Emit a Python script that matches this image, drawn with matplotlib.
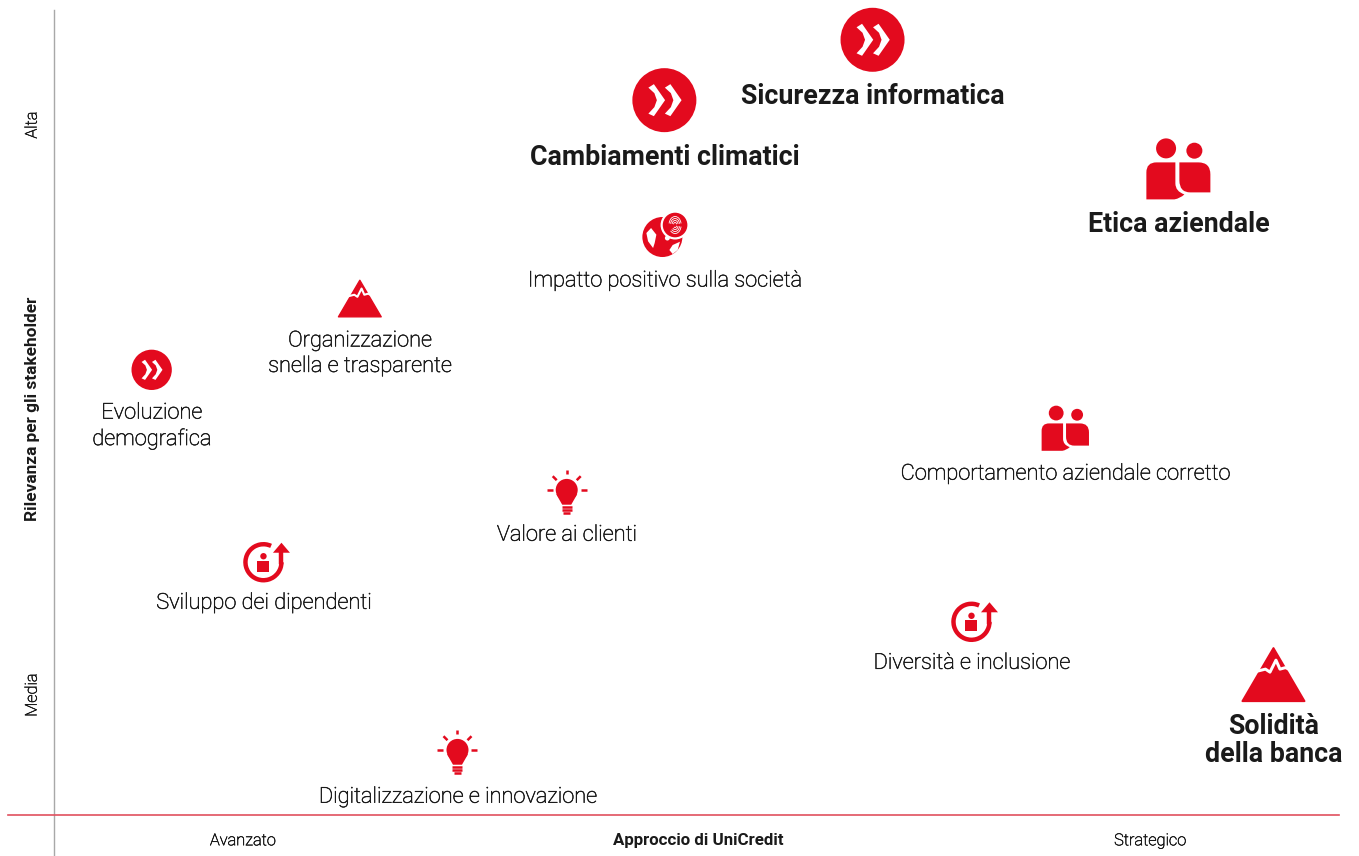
import numpy as np
import matplotlib
matplotlib.use('Agg')
import matplotlib.pyplot as plt
import matplotlib.patheffects as pe
from matplotlib.patches import Circle, Polygon, PathPatch, Arc
from matplotlib.path import Path
from matplotlib.transforms import Affine2D

# Dati (scala 0-100 su entrambi gli assi)
etichette = ['Sicurezza informatica', 'Cambiamenti climatici', 'Etica aziendale',
             'Impatto positivo sulla società', 'Organizzazione\nsnella e trasparente',
             'Evoluzione\ndemografica', 'Comportamento aziendale corretto', 'Valore ai clienti',
             'Sviluppo dei dipendenti', 'Diversità e inclusione', 'Solidità\ndella banca',
             'Digitalizzazione e innovazione']
approccio = [63.7, 47.5, 87.5, 47.5, 23.8, 7.6, 78.7, 39.9, 16.3, 71.4, 94.9, 31.4]
rilevanza = [96.3, 88.8, 80.2, 71.8, 64.2, 55.3, 48.0, 40.1, 31.4, 24.0, 17.5, 7.8]
icone = ['freccia', 'freccia', 'persone', 'globo', 'monte', 'freccia', 'persone', 'lampadina',
         'crescita', 'crescita', 'monte', 'lampadina']
principali = [True, True, True, False, False, False, False, False, False, False, True, False]

tick_x = ['Avanzato', 'Strategico']
tick_y = ['Alta', 'Media']

ROSSO = '#e30a1e'
TESTO = '#1a1a1a'
plt.rcParams['font.family'] = ['Roboto', 'DejaVu Sans']
# il carattere originale sta tra light e regular
RINFORZO = [pe.withStroke(linewidth=0.4, foreground='#1a1a1a')]

fig = plt.figure(figsize=(13.59, 8.56), dpi=100)
ax = fig.add_axes([54 / 1359, 41 / 856, 1285 / 1359, 805 / 856])
ax.set_xlim(0, 100)
ax.set_ylim(0, 100)
ax.axis('off')


def freccia(t, s):
    ax.add_patch(Circle((0, 0), 32, color=ROSSO, lw=0, transform=t, clip_on=False))
    for dx in (0, 16.5):
        forma = np.array([(-16, -12.5), (-10.5, -16), (0.7, 0), (-10.5, 16), (-16, 13.5), (-10, 7),
                          (-7.5, 0), (-10, -7)]) + (dx, 0)
        ax.add_patch(Polygon(forma, color='white', lw=0, transform=t, clip_on=False))


def persone(t, s):
    ax.add_patch(Circle((-12.3, -21), 10, color=ROSSO, lw=0, transform=t, clip_on=False))
    ax.add_patch(Circle((16, -18.7), 8, color=ROSSO, lw=0, transform=t, clip_on=False))
    sx = Path([(-32, 30), (-32, 3), (-32, -7), (-22, -7), (-3, -7), (-3, 14), (-3, 22), (6, 25),
               (2, 29), (-4, 30), (-12, 30), (-32, 30)],
              [1, 2, 3, 3, 2, 2, 3, 3, 3, 3, 2, 79])
    dx = Path([(1, -7), (20, -7), (32, -7), (32, 5), (32, 23), (12, 23), (1, 23), (1, 11), (1, -7)],
              [1, 2, 3, 3, 2, 2, 3, 3, 79])
    ax.add_patch(PathPatch(sx, color=ROSSO, lw=0, transform=t, clip_on=False))
    ax.add_patch(PathPatch(dx, color=ROSSO, lw=0, transform=t, clip_on=False))


def monte(t, s):
    ax.add_patch(Polygon([(0, -26), (31, 27), (-31, 27)], facecolor=ROSSO, edgecolor=ROSSO,
                         lw=2 * s * 0.72, joinstyle='round', transform=t, clip_on=False))
    crepa = np.array([(-20, -2), (-8, -5), (-3.5, -2), (2.5, -14), (6.5, -5), (12, -6.5), (22, -2)])
    ax.plot(*crepa.T, color='white', lw=3 * s * 0.72, transform=t, clip_on=False)


def lampadina(t, s):
    ax.add_patch(Circle((0, -2.3), 11, color=ROSSO, lw=0, transform=t, clip_on=False))
    ax.add_patch(Polygon([(-10.5, 2), (10.5, 2), (4.5, 12.5), (-4.5, 12.5)], color=ROSSO, lw=0,
                         transform=t, clip_on=False))
    for x0, y0, x1, y1 in [(-5, 14.7, 5, 14.7), (-5, 17.7, 5, 17.7), (-3.5, 20.7, 3.5, 20.7),
                           (-20, -2.5, -14, -2.5), (14, -2.5, 20, -2.5), (-14, -16, -10, -12),
                           (14, -16, 10, -12), (0, -22, 0, -18)]:
        ax.plot([x0, x1], [y0, y1], color=ROSSO, lw=1.8, transform=t, clip_on=False,
                solid_capstyle='butt')


def crescita(t, s):
    ax.add_patch(Arc((0, 0), 36, 36, theta1=0, theta2=295, color=ROSSO, lw=3.2, transform=t,
                     clip_on=False))
    ax.plot([18, 18], [0, -12], color=ROSSO, lw=3.2, transform=t, clip_on=False)
    ax.add_patch(Polygon([(18, -19.5), (26.5, -9.5), (9.5, -9.5)], color=ROSSO, lw=0, transform=t,
                         clip_on=False))
    ax.add_patch(Circle((0, -6), 3.2, color=ROSSO, lw=0, transform=t, clip_on=False))
    ax.add_patch(Polygon([(-6.5, -1.5), (6, -1.5), (6, 9.5), (-6.5, 9.5)], color=ROSSO, lw=0,
                         transform=t, clip_on=False))


def globo(t, s):
    ax.add_patch(Circle((-2, 0), 20, color=ROSSO, lw=0, transform=t, clip_on=False))
    for forma in ([(-13.3, -9), (-8, -2.3), (-9.7, 6), (-11.3, 11), (-16.3, 4.3), (-18, -4)],
                  [(5, 13), (8.3, 8), (15.6, 4.7), (13.3, 13), (8.3, 17)]):
        ax.add_patch(Polygon(forma, color='white', lw=0, transform=t, clip_on=False))
    ax.add_patch(Circle((3, 1), 2.5, color='white', lw=0, transform=t, clip_on=False))
    ax.add_patch(Circle((10.7, -12), 14.5, color='white', lw=0, transform=t, clip_on=False))
    ax.add_patch(Circle((10.7, -12), 12.3, color=ROSSO, lw=0, transform=t, clip_on=False))
    for r in (2, 4, 6, 8):
        ax.add_patch(Arc((10.7, -12.5), r * 1.5, r * 2, theta1=190, theta2=350, color='white', lw=0.6,
                         transform=t, clip_on=False))
        ax.add_patch(Arc((10.7, -11.5), r * 1.5, r * 2, theta1=10, theta2=130, color='white', lw=0.6,
                         transform=t, clip_on=False))


disegna = {'freccia': freccia, 'persone': persone, 'monte': monte, 'lampadina': lampadina,
           'crescita': crescita, 'globo': globo}
# dimensione delle icone nella versione piccola
scala = {'freccia': 0.63, 'persone': 0.74, 'monte': 0.69, 'lampadina': 1, 'crescita': 1, 'globo': 1}
scarto = [57, 57, 55, 44, 55.5, 56.5, 45.5, 43, 41, 41.5, 66, 45]

for x, y, nome, testo, grande, dy in zip(approccio, rilevanza, icone, etichette, principali, scarto):
    px, py = ax.transData.transform((x, y))
    s = 1 if grande else scala[nome]
    t = Affine2D().scale(s, -s).translate(px, py)
    disegna[nome](t, s)
    ann = ax.annotate(testo, (x, y), xytext=(0, -dy), textcoords='offset pixels', ha='center',
                      va='center', fontsize=19.3 if grande else 15.7, color=TESTO,
                      fontweight='bold' if grande else 'light',
                      linespacing=1.05 if grande else 1.28, annotation_clip=False)
    if not grande:
        ann.set_path_effects(RINFORZO)

ax.set_xlim(0, 100)
ax.set_ylim(0, 100)

# Assi
ax.plot([0, 0], [-5, 100], color='#a8a8a8', lw=1, clip_on=False, zorder=1)
ax.plot([-3.6, 100], [0, 0], color='#e0505f', lw=1.2, clip_on=False, zorder=2)

for x, testo in zip([14.7, 85.3], tick_x):
    ax.text(x, -3.2, testo, ha='center', va='center', fontsize=11.8, fontweight='light', color=TESTO,
            clip_on=False, path_effects=RINFORZO)
ax.text(50.1, -3.2, 'Approccio di UniCredit', ha='center', va='center', fontsize=12.2,
        fontweight='bold', color=TESTO, clip_on=False)
for y, testo in zip([85.7, 14.9], tick_y):
    ax.text(-1.7, y, testo, rotation=90, ha='center', va='center', fontsize=11.8, fontweight='light',
            color=TESTO, clip_on=False, path_effects=RINFORZO)
ax.text(-1.7, 50.4, 'Rilevanza per gli stakeholder', rotation=90, ha='center', va='center',
        fontsize=12.4, fontweight='bold', color=TESTO, clip_on=False)

fig.savefig('out.png', dpi=100)
